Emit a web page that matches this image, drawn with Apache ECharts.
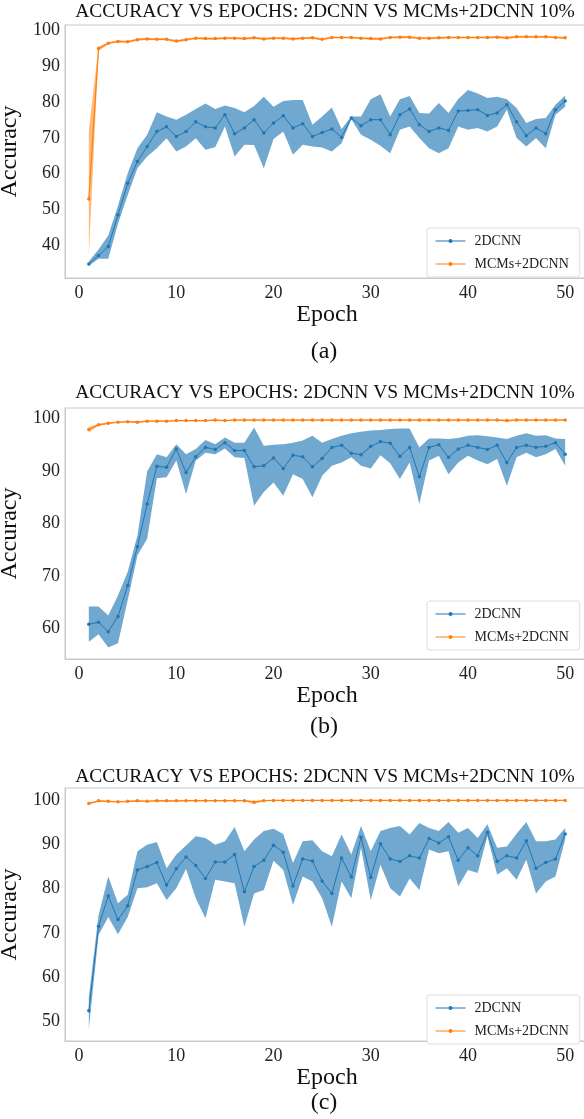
<!DOCTYPE html>
<html>
<head>
<meta charset="utf-8">
<script src="https://cdn.jsdelivr.net/npm/echarts@6/dist/echarts.min.js"></script>
<style>
  html, body { margin: 0; padding: 0; background: #fff; }
  #chart { width: 584px; height: 1119px; }
</style>
</head>
<body>
<div id="chart"></div>
<script>
// epochs 1..50
var epochs = [];
for (var k = 1; k <= 50; k++) epochs.push(k);
var xTicks = [0, 10, 20, 30, 40, 50];

// ---- panel (a) ----
var aCnn = [34.7,37.1,39.6,48.4,57.3,63.4,67.6,71.8,73.1,70.4,
            71.8,74.5,73.1,72.8,76.5,71.2,72.8,75.1,71.4,74.2,
            76.2,72.8,74.0,70.4,71.5,72.5,70.2,75.6,73.4,75.1,
            75.1,70.9,76.5,78.1,73.7,71.8,72.8,72.1,77.5,77.7,
            77.9,76.3,77.0,79.3,74.5,70.6,72.8,71.2,77.9,80.3];
var aCnnHi = [35.4,38.8,42.7,51.0,60.1,67.1,70.9,77.2,76.0,75.1,
              76.5,78.1,79.6,78.1,79.1,78.4,77.2,78.9,81.5,78.7,
              80.3,80.6,80.6,73.7,76.0,78.5,72.5,76.0,76.0,80.8,
              82.2,76.0,80.8,81.7,77.0,76.8,79.8,77.0,80.9,83.4,
              82.4,81.2,81.5,80.8,78.4,74.2,75.3,75.6,79.3,81.9];
var aCnnLo = [34.2,36.2,36.2,46.0,54.0,61.5,64.8,67.1,69.9,66.2,
              67.6,69.9,66.7,67.4,73.2,64.8,68.1,68.0,61.5,69.7,
              71.8,65.3,68.1,67.6,67.3,66.2,68.5,75.2,70.9,69.5,
              67.8,65.7,72.3,73.2,70.0,67.1,65.7,67.1,73.2,72.3,
              72.8,71.8,73.2,77.9,70.0,67.6,70.0,67.1,76.5,78.7];
var aMcm = [52.9,95.0,96.5,97.0,96.9,97.5,97.7,97.6,97.6,97.1,
            97.5,97.9,97.8,97.8,97.9,97.9,97.8,98.0,97.7,97.9,
            97.9,97.7,97.9,98.0,97.6,98.1,98.1,98.1,97.9,97.8,
            97.7,98.1,98.2,98.2,97.9,97.9,98.0,98.1,98.1,98.1,
            98.1,98.1,98.2,98.0,98.3,98.3,98.3,98.3,98.1,98.0];
var aMcmHi = [72.0,95.6,96.8,97.3,97.2,97.8,98.0,97.9,97.9,97.4,
              97.8,98.2,98.1,98.1,98.2,98.2,98.1,98.3,98.0,98.2,
              98.2,98.0,98.2,98.3,97.9,98.4,98.4,98.4,98.2,98.1,
              98.0,98.4,98.5,98.5,98.2,98.2,98.3,98.4,98.4,98.4,
              98.4,98.4,98.5,98.3,98.6,98.6,98.6,98.6,98.4,98.3];
var aMcmLo = [37.0,94.3,96.2,96.7,96.6,97.2,97.4,97.3,97.3,96.8,
              97.2,97.6,97.5,97.5,97.6,97.6,97.5,97.7,97.4,97.6,
              97.6,97.4,97.6,97.7,97.3,97.8,97.8,97.8,97.6,97.5,
              97.4,97.8,97.9,97.9,97.6,97.6,97.7,97.8,97.8,97.8,
              97.8,97.8,97.9,97.7,98.0,98.0,98.0,98.0,97.8,97.7];

// ---- panel (b) ----
var bCnn = [60.8,61.2,59.4,62.3,68.2,75.6,83.7,90.9,90.7,94.2,
            89.7,92.7,94.5,94.1,95.4,93.9,93.9,90.8,91.0,92.5,
            90.5,93.0,92.7,90.8,92.4,94.5,94.9,93.4,93.1,94.7,
            95.6,95.3,92.8,94.5,88.9,94.5,95.0,92.6,94.2,94.9,
            94.5,94.1,94.9,91.6,94.5,94.9,94.5,94.7,95.4,93.2];
var bCnnHi = [64.2,64.2,62.5,66.3,70.8,77.7,89.9,93.2,92.6,95.1,
              93.2,94.2,95.9,95.1,96.4,95.4,95.4,98.3,94.8,95.0,
              95.1,95.4,95.8,96.7,95.4,96.1,96.7,97.2,97.5,97.7,
              97.8,98.0,98.1,98.1,94.5,96.2,96.2,96.1,96.3,96.7,
              96.8,96.6,96.4,96.1,96.7,97.2,96.7,96.8,96.2,96.1];
var bCnnLo = [57.5,58.9,56.4,57.2,65.4,73.9,77.1,88.6,88.8,92.0,
              85.6,92.0,93.5,93.2,94.3,92.6,92.5,83.4,86.0,87.8,
              85.3,89.4,88.5,85.0,89.1,91.0,91.6,92.6,91.0,90.5,
              93.0,91.5,88.5,91.6,83.7,92.0,92.9,89.4,91.6,92.9,
              92.0,91.3,92.3,87.2,92.6,93.5,92.6,93.2,94.2,91.0];
var bMcm = [97.9,98.8,99.1,99.3,99.4,99.3,99.5,99.5,99.5,99.6,
            99.6,99.6,99.6,99.7,99.6,99.7,99.7,99.7,99.7,99.7,
            99.7,99.7,99.7,99.7,99.7,99.7,99.7,99.7,99.7,99.7,
            99.7,99.7,99.7,99.7,99.7,99.7,99.7,99.7,99.7,99.7,
            99.7,99.7,99.7,99.6,99.7,99.7,99.7,99.7,99.7,99.7];
var bMcmHi = [98.4,99.0,99.3,99.4,99.5,99.5,99.6,99.6,99.6,99.7,
              99.7,99.7,99.7,99.8,99.7,99.8,99.8,99.8,99.8,99.8,
              99.8,99.8,99.8,99.8,99.8,99.8,99.8,99.8,99.8,99.8,
              99.8,99.8,99.8,99.8,99.8,99.8,99.8,99.8,99.8,99.8,
              99.8,99.8,99.8,99.8,99.8,99.8,99.8,99.8,99.8,99.8];
var bMcmLo = [97.4,98.6,98.9,99.2,99.3,99.1,99.4,99.4,99.4,99.5,
              99.5,99.5,99.5,99.6,99.5,99.6,99.6,99.6,99.6,99.6,
              99.6,99.6,99.6,99.6,99.6,99.6,99.6,99.6,99.6,99.6,
              99.6,99.6,99.6,99.6,99.6,99.6,99.6,99.6,99.6,99.6,
              99.6,99.6,99.6,99.4,99.6,99.6,99.6,99.6,99.6,99.6];

// ---- panel (c) ----
var cCnn = [52.4,71.5,78.3,73.0,76.1,84.2,85.0,85.9,80.8,84.5,
            87.1,85.2,82.3,86.0,86.0,87.7,79.3,85.0,86.4,89.8,
            88.2,80.6,86.7,86.2,81.7,78.9,86.9,82.6,91.6,82.5,
            90.1,86.7,86.1,87.4,86.9,91.3,90.3,91.7,86.4,89.2,
            87.4,92.7,86.1,87.4,86.9,90.8,84.6,85.9,86.7,92.3];
var cCnnHi = [55.5,74.0,82.7,76.7,78.6,88.4,89.9,90.5,84.6,87.7,
              89.7,91.8,91.4,89.9,90.7,93.9,88.4,91.1,93.0,93.5,
              92.3,85.8,90.7,90.9,88.4,87.3,92.2,87.7,94.1,88.4,
              93.0,93.7,94.1,92.2,94.8,93.7,93.0,95.0,92.6,93.7,
              91.4,94.5,89.2,89.5,92.4,95.0,90.7,90.7,91.1,93.7];
var cCnnLo = [48.3,69.5,73.6,69.7,73.6,80.1,80.3,81.2,77.4,80.1,
              84.4,77.8,73.3,82.0,81.6,81.2,71.4,78.9,79.7,86.3,
              84.2,76.3,82.7,81.6,77.8,71.4,81.6,77.8,89.2,77.4,
              85.4,80.1,78.2,82.3,79.7,88.8,88.0,88.4,80.5,84.2,
              83.5,91.8,83.1,84.6,82.0,86.5,78.9,81.6,82.7,91.1];
var cMcm = [99.2,99.8,99.7,99.6,99.7,99.8,99.7,99.85,99.8,99.8,
            99.85,99.85,99.85,99.85,99.85,99.85,99.85,99.5,99.85,99.9,
            99.9,99.9,99.9,99.9,99.9,99.9,99.9,99.9,99.9,99.9,
            99.9,99.9,99.9,99.9,99.9,99.9,99.9,99.9,99.9,99.9,
            99.9,99.9,99.9,99.9,99.9,99.9,99.9,99.9,99.9,99.9];
var cMcmHi = [99.4,99.95,99.85,99.75,99.85,99.95,99.85,99.95,99.95,99.95,
              99.95,99.95,99.95,99.95,99.95,99.95,99.95,99.8,99.95,100.0,
              100.0,100.0,100.0,100.0,100.0,100.0,100.0,100.0,100.0,100.0,
              100.0,100.0,100.0,100.0,100.0,100.0,100.0,100.0,100.0,100.0,
              100.0,100.0,100.0,100.0,100.0,100.0,100.0,100.0,100.0,100.0];
var cMcmLo = [98.9,99.6,99.5,99.4,99.5,99.6,99.5,99.7,99.6,99.6,
              99.7,99.7,99.7,99.7,99.7,99.7,99.7,99.1,99.7,99.8,
              99.8,99.8,99.8,99.8,99.8,99.8,99.8,99.8,99.8,99.8,
              99.8,99.8,99.8,99.8,99.8,99.8,99.8,99.8,99.8,99.8,
              99.8,99.8,99.8,99.8,99.8,99.8,99.8,99.8,99.8,99.8];

var aTicks = [40, 50, 60, 70, 80, 90, 100];
var bTicks = [60, 70, 80, 90, 100];
var cTicks = [50, 60, 70, 80, 90, 100];

var titleText = 'ACCURACY VS EPOCHS: 2DCNN VS MCMs+2DCNN 10%';
var FONT = '"Liberation Serif", "DejaVu Serif", serif';
var BLUE = '#1f77b4', ORANGE = '#ff7f0e';

var panels = [
  { cnn: aCnn, hi: aCnnHi, lo: aCnnLo, mcm: aMcm, mhi: aMcmHi, mlo: aMcmLo,
    top: 25, height: 253, min: 30.8, max: 101.6, ticks: aTicks, tag: '(a)',
    titleY: 12, tagY: 352, legendTop: 228 },
  { cnn: bCnn, hi: bCnnHi, lo: bCnnLo, mcm: bMcm, mhi: bMcmHi, mlo: bMcmLo,
    top: 408, height: 251, min: 54.2, max: 102.0, ticks: bTicks, tag: '(b)',
    titleY: 393, tagY: 727, legendTop: 601 },
  { cnn: cCnn, hi: cCnnHi, lo: cCnnLo, mcm: cMcm, mhi: cMcmHi, mlo: cMcmLo,
    top: 788, height: 253, min: 45.6, max: 102.7, ticks: cTicks, tag: '(c)',
    titleY: 777, tagY: 1103, legendTop: 995 }
];

function pairs(vals) {
  return epochs.map(function (e, i) { return [e, vals[i]]; });
}

// shaded band between lo and hi, drawn as one polygon through the axis scale
function bandSeries(idx, lo, hi, color) {
  return {
    type: 'custom', xAxisIndex: idx, yAxisIndex: idx, silent: true, z: 1,
    data: epochs.map(function (e, i) { return [e, lo[i], hi[i]]; }),
    encode: { x: 0, y: [1, 2] },
    renderItem: function (params, api) {
      if (params.dataIndex !== 0) return null;
      var pts = [];
      for (var i = 0; i < epochs.length; i++) pts.push(api.coord([epochs[i], hi[i]]));
      for (var j = epochs.length - 1; j >= 0; j--) pts.push(api.coord([epochs[j], lo[j]]));
      return {
        type: 'polygon',
        shape: { points: pts },
        style: { fill: color, stroke: null },
        clipPath: {
          type: 'rect',
          shape: { x: params.coordSys.x, y: params.coordSys.y,
                   width: params.coordSys.width, height: params.coordSys.height }
        }
      };
    }
  };
}

var grids = [], xAxes = [], yAxes = [], series = [], legends = [], graphics = [];

panels.forEach(function (p, idx) {
  // the right spine of the original is cropped off the picture
  grids.push({ left: 65, width: 524, top: p.top, height: p.height, outerBoundsMode: 'none',
               containLabel: false,
               show: true, borderColor: '#c8c8c8', borderWidth: 1, backgroundColor: '#fff' });
  xAxes.push({
    type: 'value', gridIndex: idx, min: -1.45, max: 52.45,
    name: 'Epoch', nameLocation: 'middle', nameGap: 24,
    nameTextStyle: { fontFamily: FONT, fontSize: 24, color: '#111' },
    axisLine: { show: true, onZero: false, lineStyle: { color: '#c8c8c8' } },
    axisTick: { show: false },
    splitLine: { show: false },
    axisLabel: { customValues: xTicks, fontFamily: FONT, fontSize: 18, color: '#222', margin: 6 }
  });
  yAxes.push({
    type: 'value', gridIndex: idx, min: p.min, max: p.max,
    name: 'Accuracy', nameLocation: 'middle', nameGap: 36,
    nameTextStyle: { fontFamily: FONT, fontSize: 24, color: '#111' },
    axisLine: { show: true, onZero: false, lineStyle: { color: '#c8c8c8' } },
    axisTick: { show: false },
    splitLine: { show: false },
    axisLabel: { customValues: p.ticks, fontFamily: FONT, fontSize: 18, color: '#222', margin: 5 }
  });

  series.push(bandSeries(idx, p.lo, p.hi, 'rgba(31,119,180,0.64)'));
  series.push({ type: 'line', name: '2DCNN', xAxisIndex: idx, yAxisIndex: idx, data: pairs(p.cnn),
    symbol: 'circle', symbolSize: 3.5, color: BLUE,
    lineStyle: { width: 1, color: BLUE }, itemStyle: { color: BLUE }, z: 3 });
  series.push(bandSeries(idx, p.mlo, p.mhi, 'rgba(255,127,14,0.55)'));
  series.push({ type: 'line', name: 'MCMs+2DCNN', xAxisIndex: idx, yAxisIndex: idx, data: pairs(p.mcm),
    symbol: 'circle', symbolSize: 3.5, color: ORANGE,
    lineStyle: { width: 1.2, color: ORANGE }, itemStyle: { color: ORANGE }, z: 4 });

  legends.push({
    data: ['2DCNN', 'MCMs+2DCNN'], orient: 'vertical',
    left: 427, top: p.legendTop, itemWidth: 30, itemHeight: 5, itemGap: 9,
    padding: [6, 11, 6, 8], borderColor: '#dddddd', borderWidth: 1, borderRadius: 3,
    backgroundColor: '#fff', selectedMode: false,
    lineStyle: { width: 1 },
    textStyle: { fontFamily: FONT, fontSize: 14, color: '#222', padding: [0, 0, 0, 4] }
  });

  graphics.push({ type: 'text', x: 325, y: p.titleY,
    style: { text: titleText, font: '19.5px ' + FONT, fill: '#111', textAlign: 'center', textVerticalAlign: 'middle' } });
  graphics.push({ type: 'text', x: 324, y: p.tagY,
    style: { text: p.tag, font: '24px ' + FONT, fill: '#111', textAlign: 'center', textVerticalAlign: 'middle' } });
});

var myChart = echarts.init(document.getElementById('chart'), null, { renderer: 'canvas' });
myChart.setOption({
  animation: false,
  backgroundColor: '#fff',
  grid: grids,
  xAxis: xAxes,
  yAxis: yAxes,
  legend: legends,
  series: series,
  graphic: graphics
});
</script>
</body>
</html>
